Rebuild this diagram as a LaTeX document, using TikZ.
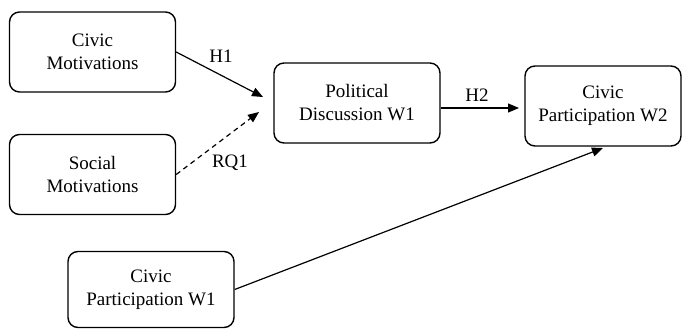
\documentclass[tikz,border=0pt]{standalone}
\usepackage{fontspec}
\setmainfont{Liberation Serif}
\usetikzlibrary{arrows.meta}
\begin{document}
\begin{tikzpicture}[x=1pt,y=-1pt,line join=round,>={Triangle[length=11pt,width=9pt]},line width=1.2pt]
	\tikzset{box/.style={draw,line width=1.4pt,rounded corners=10pt,minimum width=166pt,minimum height=80pt,align=center,inner sep=0pt,font=\fontsize{19}{23}\selectfont}}
	\tikzset{lab/.style={font=\fontsize{19}{23}\selectfont,inner sep=0pt}}
	\useasboundingbox (0,0) rectangle (682,329);
	% boxes
	\node[box] (civmot) at (92.5,52) {Civic\\Motivations};
	\node[box] (socmot) at (92.5,174.5) {Social\\Motivations};
	\node[box] (poldis) at (357,103) {Political\\Discussion W1};
	\node[box,minimum width=156pt] (cpwtwo) at (603,106) {Civic\\Participation W2};
	\node[box,minimum height=76pt] (cpwone) at (151,289.5) {Civic\\Participation W1};
	% free ends of the arrows
	\coordinate (hone) at (263,97);
	\coordinate (rqone) at (259,112);
	\coordinate (htwo) at (519,108);
	\coordinate (cpend) at (603,148);
	% arrows
	\draw[->] (civmot.east) -- (hone);
	\draw[->,dash pattern=on 5pt off 4pt] (socmot.east) -- (rqone);
	\draw[->] (poldis.east |- htwo) -- (htwo);
	\draw[->] (cpwone.east) -- (cpend);
	% labels
	\node[lab] (lhone) at (221,56) {H1};
	\node[lab] (lrqone) at (230,163) {RQ1};
	\node[lab] (lhtwo) at (477,95) {H2};
\end{tikzpicture}
\end{document}
